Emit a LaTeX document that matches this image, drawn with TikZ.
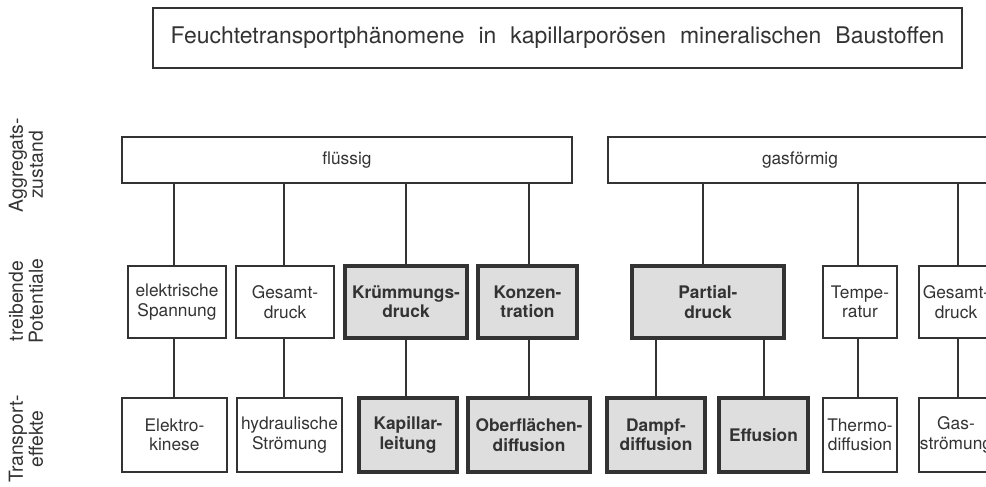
\documentclass[tikz,border=0pt]{standalone}
\usepackage{fontspec}
\setmainfont{TeX Gyre Heros}
\newfontfamily\titlefont[WordSpace=2.2]{TeX Gyre Heros}
\definecolor{ink}{HTML}{333333}
\definecolor{shade}{HTML}{DEDEDE}

\begin{document}
\begin{tikzpicture}[x=0.75pt, y=-0.75pt, draw=ink, text=ink, line width=1.3pt,
  every node/.style={draw, rectangle, inner sep=0pt, align=center, font=\fontsize{13}{14.5}\selectfont},
  plain/.style={fill=white, line width=1.3pt},
  main/.style={fill=shade, line width=2.3pt, font=\fontsize{13}{14.5}\selectfont\bfseries},
  side/.style={draw=none, rotate=90, font=\fontsize{14.5}{15}\selectfont}]
\clip (0,0) rectangle (986,486);
\node[plain, minimum width=606.75pt, minimum height=45pt, font=\titlefont\fontsize{17.2}{19}\selectfont] (Title) at (557.5,38) {Feuchtetransportphänomene in kapillarporösen mineralischen Baustoffen};
\node[side] (L1) at (26,165) {Aggregats-\\zustand};
\node[side] (L2) at (26,301) {treibende\\Potentiale};
\node[side] (L3) at (26,439) {Transport-\\effekte};
\node[plain, minimum width=337.5pt, minimum height=34.5pt] (Fl) at (347,160) {flüssig};
\node[plain, minimum width=288pt, minimum height=34.5pt] (Gas) at (800,160) {gasförmig};
\node[plain, minimum width=73.5pt, minimum height=54pt] (P1) at (177,302) {elektrische\\Spannung};
\node[plain, minimum width=73.5pt, minimum height=54pt] (P2) at (285,302) {Gesamt-\\druck};
\node[main, minimum width=91.5pt, minimum height=54pt] (P3) at (406,302) {Krümmungs-\\druck};
\node[main, minimum width=74.25pt, minimum height=54pt] (P4) at (527.5,302) {Konzen-\\tration};
\node[main, minimum width=114pt, minimum height=54pt] (P5) at (708,302) {Partial-\\druck};
\node[plain, minimum width=55.5pt, minimum height=54pt] (P6) at (860,302) {Tempe-\\ratur};
\node[plain, minimum width=55.5pt, minimum height=54pt] (P7) at (956,302) {Gesamt-\\druck};
\node[plain, minimum width=78.75pt, minimum height=55.5pt] (T1) at (174.5,435) {Elektro-\\kinese};
\node[plain, minimum width=78.75pt, minimum height=55.5pt] (T2) at (289.5,435) {hydraulische\\Strömung};
\node[main, minimum width=73.5pt, minimum height=55.5pt] (T3) at (408,435) {Kapillar-\\leitung};
\node[main, minimum width=91.5pt, minimum height=55.5pt] (T4) at (529,435) {Oberflächen-\\diffusion};
\node[main, minimum width=73.5pt, minimum height=55.5pt] (T5) at (656,435) {Dampf-\\diffusion};
\node[main, minimum width=66.75pt, minimum height=55.5pt] (T6) at (763.5,435) {Effusion};
\node[plain, minimum width=55.5pt, minimum height=55.5pt] (T7) at (860,435) {Thermo-\\diffusion};
\node[plain, minimum width=55.5pt, minimum height=55.5pt] (T8) at (956,435) {Gas-\\strömung};
\coordinate (C1) at (174,0);
\coordinate (C2) at (284,0);
\coordinate (C3) at (406,0);
\coordinate (C4) at (529,0);
\coordinate (C5) at (703,0);
\coordinate (C6) at (858,0);
\coordinate (C7) at (958,0);
\coordinate (C8) at (656,0);
\coordinate (C9) at (764,0);
\draw (Fl.south -| C1) -- (P1.north -| C1);
\draw (Fl.south -| C2) -- (P2.north -| C2);
\draw (Fl.south -| C3) -- (P3.north -| C3);
\draw (Fl.south -| C4) -- (P4.north -| C4);
\draw (Gas.south -| C5) -- (P5.north -| C5);
\draw (Gas.south -| C6) -- (P6.north -| C6);
\draw (Gas.south -| C7) -- (P7.north -| C7);
\draw (P1.south -| C1) -- (T1.north -| C1);
\draw (P2.south -| C2) -- (T2.north -| C2);
\draw (P3.south -| C3) -- (T3.north -| C3);
\draw (P4.south -| C4) -- (T4.north -| C4);
\draw (P5.south -| C8) -- (T5.north -| C8);
\draw (P5.south -| C9) -- (T6.north -| C9);
\draw (P6.south -| C6) -- (T7.north -| C6);
\draw (P7.south -| C7) -- (T8.north -| C7);
\end{tikzpicture}
\end{document}
